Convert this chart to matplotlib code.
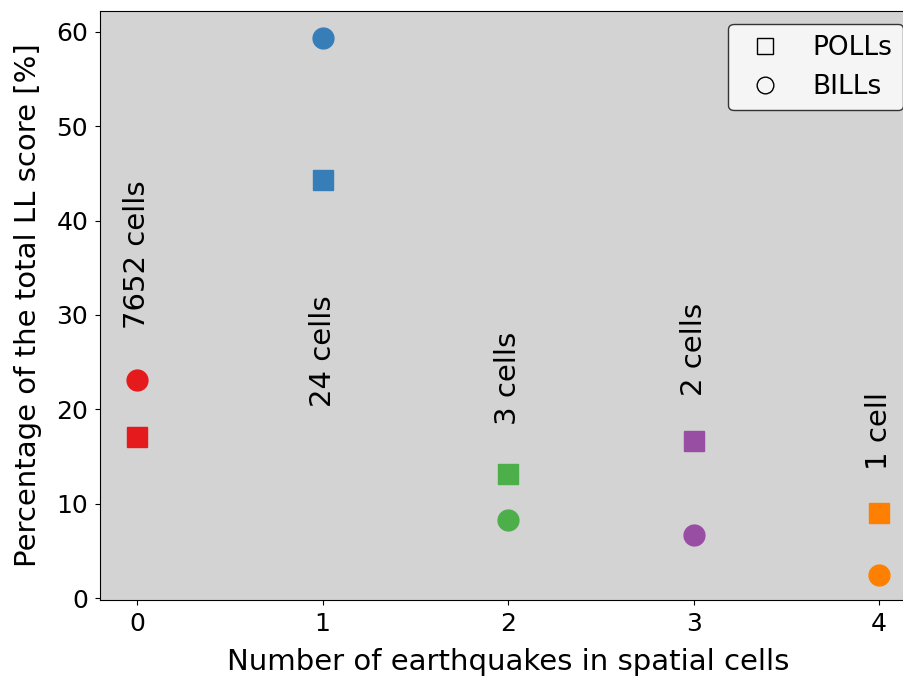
import matplotlib
matplotlib.use("Agg")
import matplotlib.pyplot as plt
from matplotlib.lines import Line2D

# data
n_quakes = [0, 1, 2, 3, 4]
polls = [17.1, 44.3, 13.1, 16.6, 9.0]
bills = [23.1, 59.3, 8.3, 6.7, 2.4]
colors = ['#e41a1c', '#377eb8', '#4daf4a', '#984ea3', '#ff7f00']
cell_labels = ['7652 cells', '24 cells', '3 cells', '2 cells', '1 cell']
label_y = [28.5, 20.2, 18.3, 21.4, 13.6]

plt.rcParams['font.size'] = 21

fig = plt.figure(figsize=(9.04, 6.79), dpi=100)
ax = fig.add_axes([0.1106, 0.1163, 0.903, 0.8675])
ax.set_facecolor('lightgray')

for x, p, b, c in zip(n_quakes, polls, bills, colors):
    ax.plot(x, p, marker='s', color=c, markersize=14, linestyle='none')
    ax.plot(x, b, marker='o', color=c, markersize=15, linestyle='none')

for x, y, t in zip(n_quakes, label_y, cell_labels):
    ax.text(x, y, t, rotation=90, ha='center', va='bottom')

handles = [
    Line2D([], [], marker='s', linestyle='none', markerfacecolor='none',
           markeredgecolor='black', markersize=12, label='POLLs'),
    Line2D([], [], marker='o', linestyle='none', markerfacecolor='none',
           markeredgecolor='black', markersize=12, label='BILLs'),
]
leg = ax.legend(handles=handles, loc='upper right', framealpha=1,
                edgecolor='#333333', fontsize=19)
leg.get_frame().set_facecolor('#f5f5f5')

ax.set_xlim(-0.2, 4.2)
ax.set_ylim(-0.2, 62.2)
ax.set_xticks(n_quakes)
ax.tick_params(labelsize=18, pad=5)
ax.set_xlabel('Number of earthquakes in spatial cells', labelpad=9)
ax.set_ylabel('Percentage of the total LL score [%]', labelpad=10)

fig.savefig('out.png', dpi=100)
